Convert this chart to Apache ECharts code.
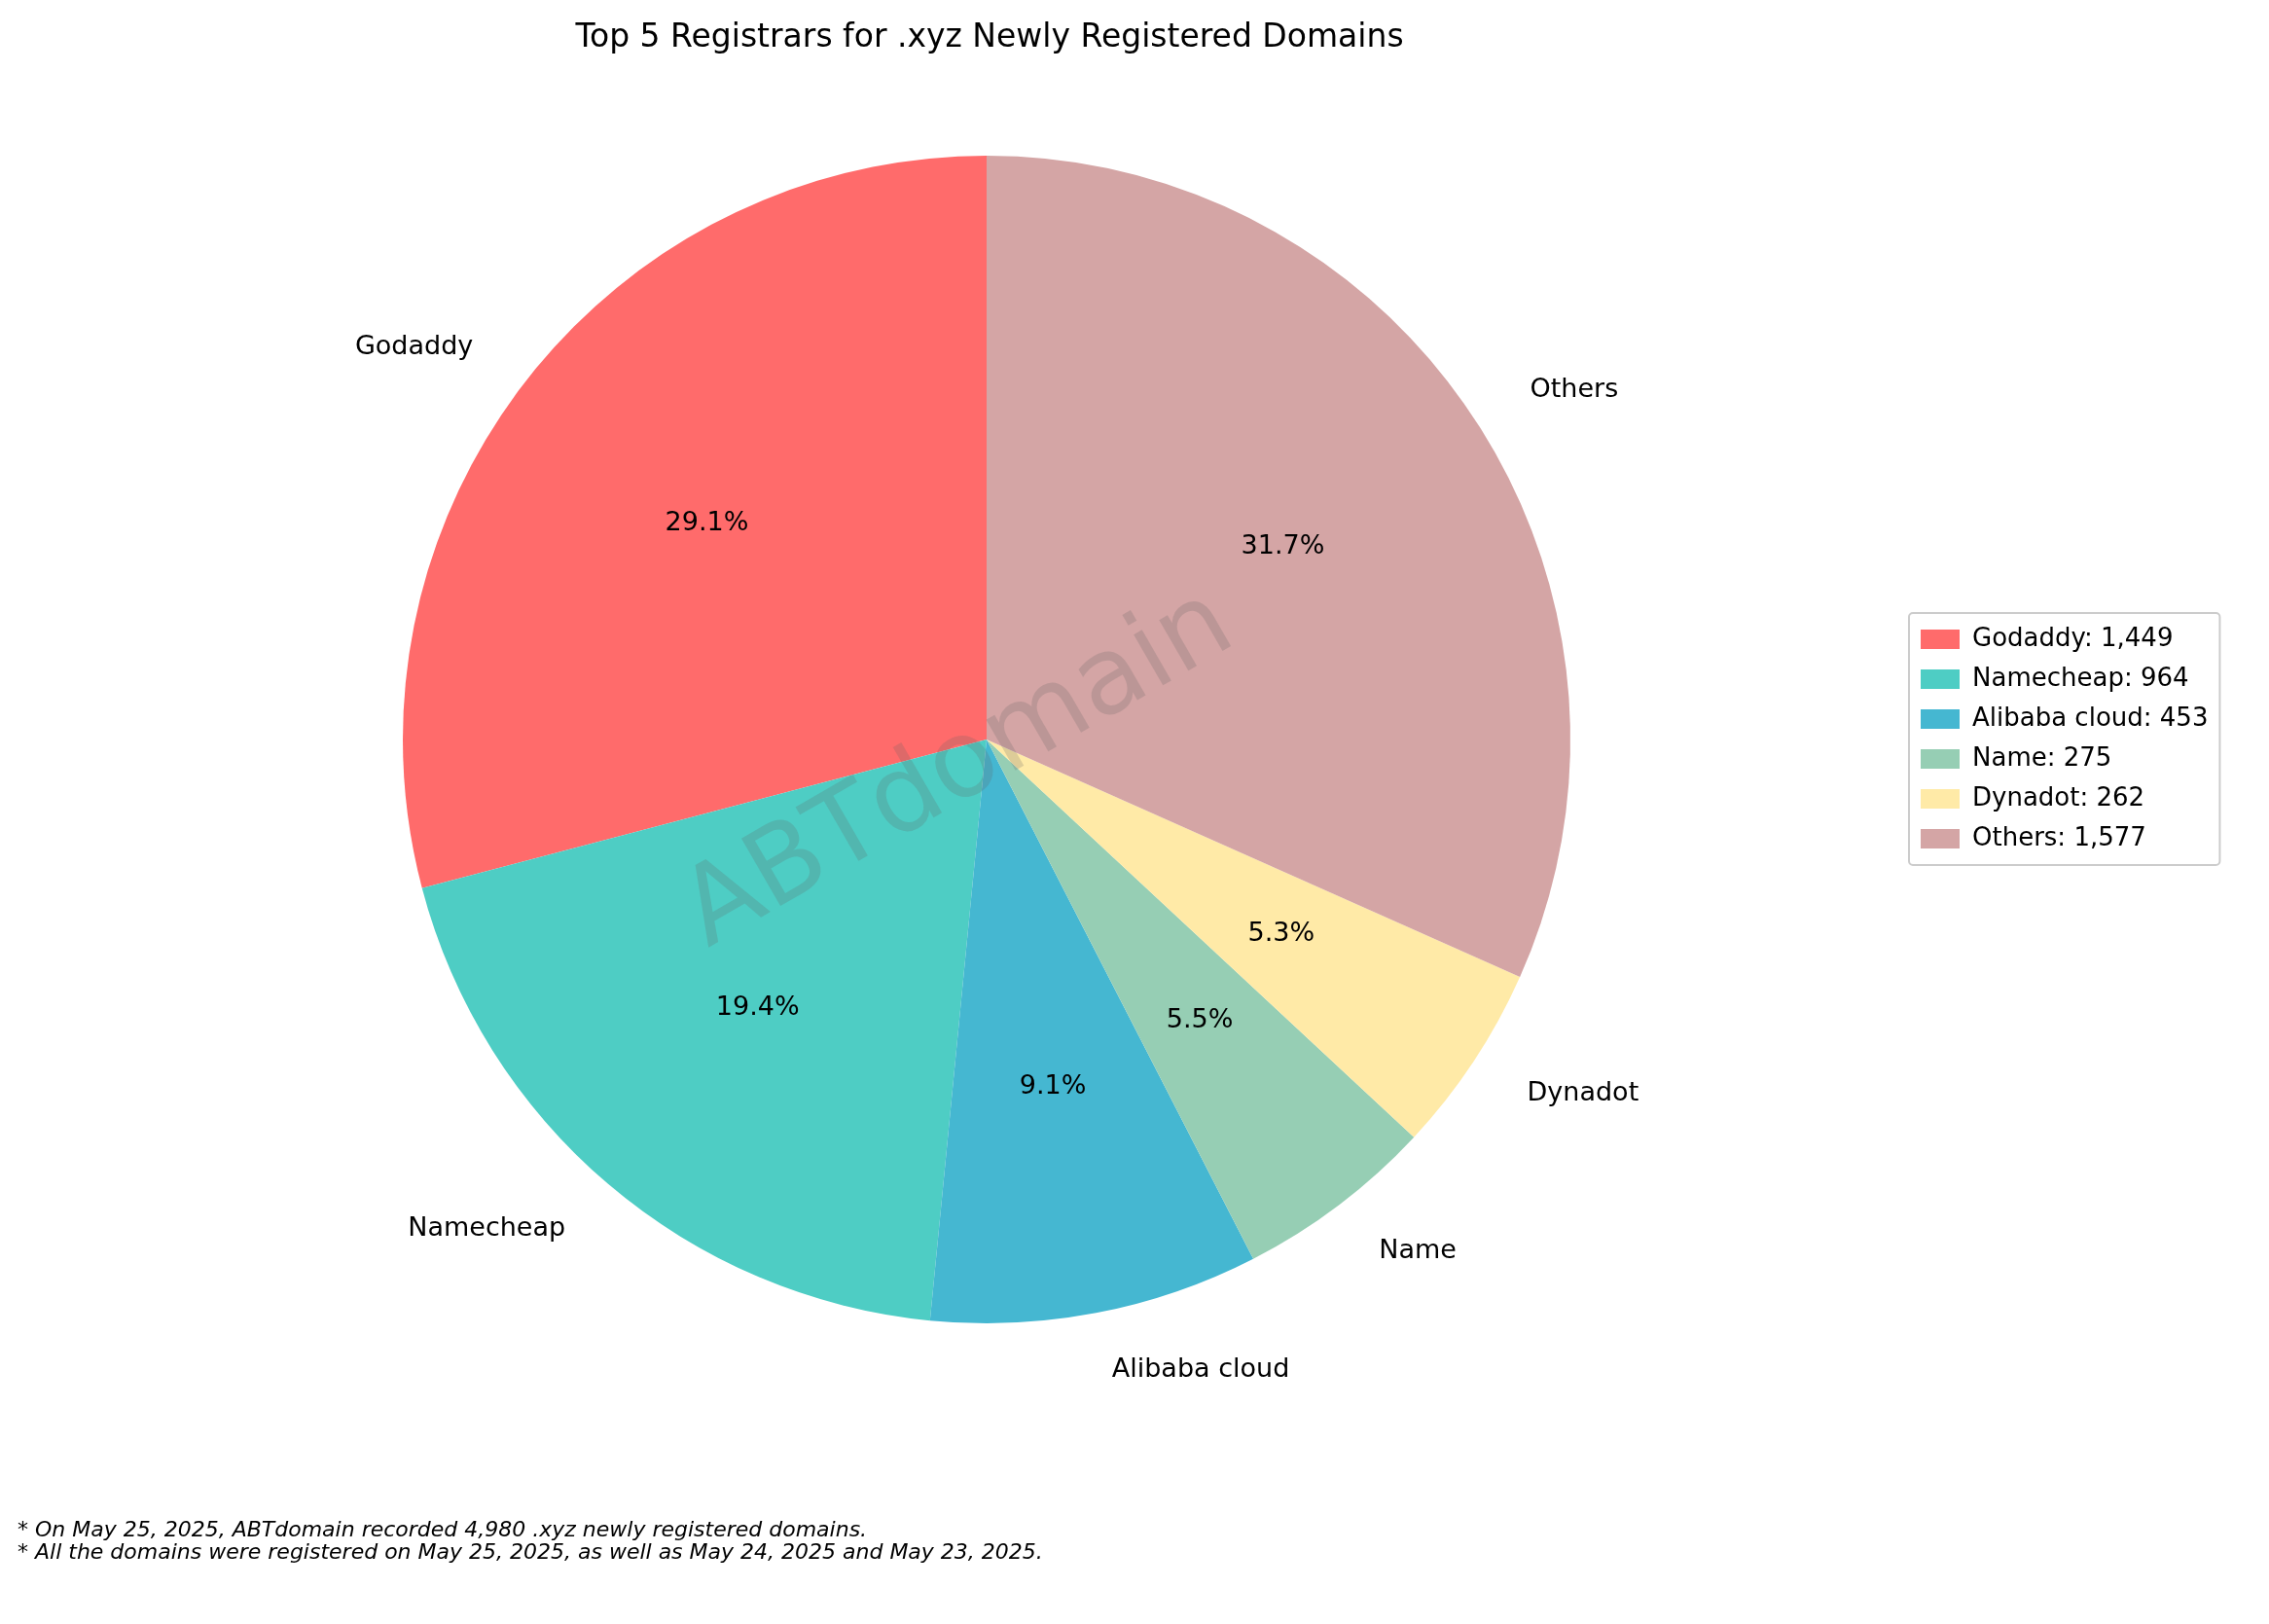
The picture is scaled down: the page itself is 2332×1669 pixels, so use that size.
<!DOCTYPE html>
<html><head><meta charset="utf-8">
<script src="https://cdn.jsdelivr.net/npm/echarts@6/dist/echarts.min.js"></script>
<style>html,body{margin:0;background:#fff}#c{width:2332px;height:1669px}</style>
</head><body><div id="c"></div>
<script>
var names = ['Godaddy', 'Namecheap', 'Alibaba cloud', 'Name', 'Dynadot', 'Others'];
var values = [1449, 964, 453, 275, 262, 1577];
var colors = ['#FF6B6B', '#4ECDC4', '#45B7D1', '#96CEB4', '#FFEAA7', '#D4A5A5'];
var notes = [
    '* On May 25, 2025, ABTdomain recorded 4,980 .xyz newly registered domains.',
    '* All the domains were registered on May 25, 2025, as well as May 24, 2025 and May 23, 2025.'
];

var myChart = echarts.init(document.getElementById('c'));
var total = values.reduce(function (a, b) { return a + b; }, 0);
var data = names.map(function (n, i) {
    return { name: n, value: values[i], itemStyle: { color: colors[i] } };
});
var R = 600;
var font = 'DejaVu Sans';

option = {
    animation: false,
    title: {
        text: 'Top 5 Registrars for .xyz Newly Registered Domains',
        left: 1012, top: 18, textAlign: 'center',
        textStyle: { fontFamily: font, fontWeight: 'normal', fontSize: 33, color: '#000' }
    },
    legend: {
        orient: 'vertical', left: 1962, top: 630,
        icon: 'rect', itemWidth: 40, itemHeight: 20, itemGap: 15,
        padding: [14, 12, 14, 12],
        borderColor: '#ccc', borderWidth: 2, borderRadius: 4,
        textStyle: { fontFamily: font, fontSize: 26, color: '#000', padding: [0, 0, 0, 8] },
        formatter: function (n) {
            return n + ': ' + values[names.indexOf(n)].toLocaleString('en-US');
        },
        data: names
    },
    graphic: [
        {
            type: 'text', x: 986, y: 792, rotation: Math.PI / 6,
            style: { text: 'ABTdomain', font: '110px ' + font, fill: 'rgba(100,100,100,0.22)', align: 'center', verticalAlign: 'middle' },
            z: 100
        },
        {
            type: 'text', left: 18, top: 1562,
            style: { text: notes.join('\n'), font: 'italic 22px ' + font, fill: '#000', lineHeight: 23 }
        }
    ],
    series: [{
        type: 'pie', center: [1014, 760], radius: [0, R],
        startAngle: 90, clockwise: false,
        label: { position: 'outside', fontFamily: font, fontSize: 27, color: '#000' },
        labelLine: { show: false, length: 60, length2: 0 },
        emphasis: { disabled: true },
        data: data
    }, {
        type: 'pie', center: [1014, 760], radius: [0, R * 1.2],
        startAngle: 90, clockwise: false, silent: true,
        itemStyle: { color: 'rgba(0,0,0,0)' },
        label: {
            position: 'inside', fontFamily: font, fontSize: 27, color: '#000',
            formatter: function (p) { return (p.value / total * 100).toFixed(1) + '%'; }
        },
        data: names.map(function (n, i) { return { name: n, value: values[i] }; })
    }]
};
myChart.setOption(option);
</script></body></html>
